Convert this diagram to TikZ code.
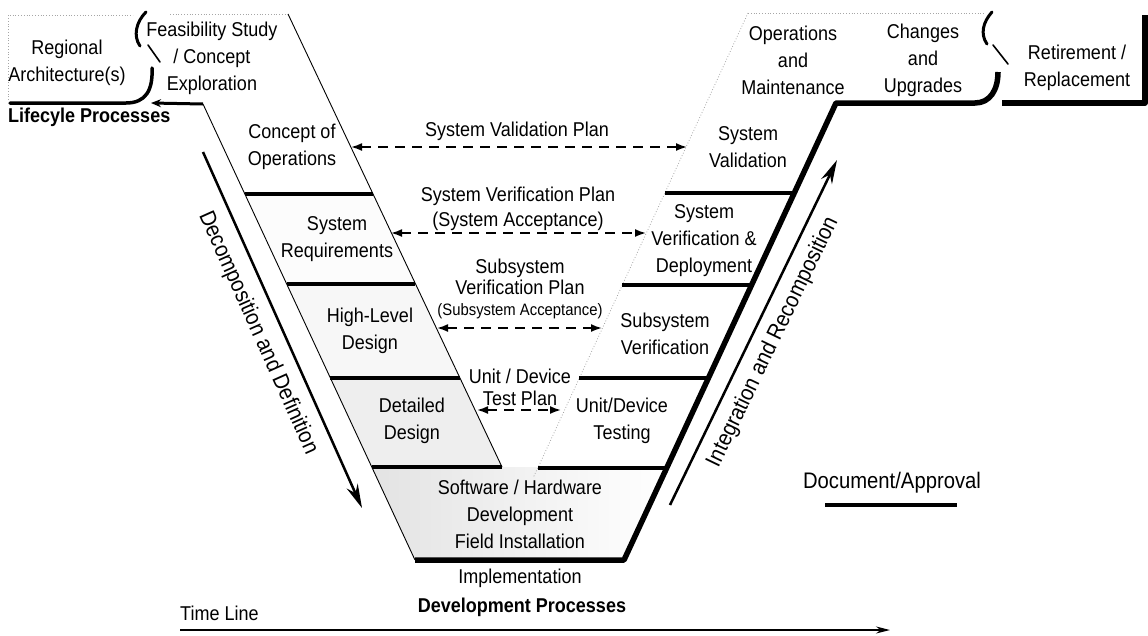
\documentclass[tikz,border=0pt]{standalone}
\usepackage{fontspec}
\setmainfont{Liberation Sans}[FakeStretch=0.9]
\usetikzlibrary{arrows.meta}
\begin{document}
\begin{tikzpicture}[x=1pt,y=-1pt,
  lbl/.style={font=\fontsize{20}{27}\selectfont, align=center, inner sep=0pt},
  clbl/.style={font=\fontsize{20}{23}\selectfont, align=center, inner sep=0pt},
  blbl/.style={font=\fontsize{20}{24}\selectfont\bfseries, inner sep=0pt},
  rlbl/.style={font=\fontsize{22.5}{26}\selectfont, inner sep=0pt},
  doc/.style={line width=4pt},
  edge/.style={line width=0.9pt},
  thickedge/.style={line width=5.5pt, line join=round},
  dotedge/.style={gray!70, dotted, line width=0.8pt},
  squig/.style={line width=3pt, line cap=round},
  plan/.style={line width=1.8pt, dash pattern=on 10pt off 7pt, {Latex[length=11pt,width=8pt]}-{Latex[length=11pt,width=8pt]}},
  bigarrow/.style={line width=2.5pt, -{Stealth[length=24pt,width=12pt]}},
]
\useasboundingbox (0,0) rectangle (1148,635);

% ---- shading of left arm
\fill[gray!2] (244.9,194) -- (372.8,194) -- (415.4,284) -- (286.7,284) -- cycle;
\fill[gray!6] (286.7,284) -- (415.4,284) -- (459.9,378) -- (330.4,378) -- cycle;
\fill[gray!13] (330.4,378) -- (459.9,378) -- (502,467) -- (371.8,467) -- cycle;
\shade[left color=gray!22, middle color=white, right color=white] (371.8,467) -- (666.7,467) -- (624,560) -- (415,560) -- cycle;

% ---- outlines
\draw[dotedge] (8,100) -- (8,15) -- (133,15);
\draw[dotedge] (170,14) -- (288,14);
\draw[dotedge] (748,13) -- (985,13);
\draw[dotedge] (748,13) -- (537.8,468) -- (533,478);
\draw[edge] (288,14) -- (502,467);
\draw[edge] (203,104) -- (415,560);

% top-left squiggle and lines
\draw[squig, line width=3.5pt] (10,103) -- (126,103) .. controls (146,103) and (153,90) .. (152,68);
\draw[squig] (146,12) .. controls (136,22) and (133,36) .. (140,46);
\draw[line width=1.6pt, line cap=round] (148,45) -- (160,62);
\draw[line width=3pt, -{Stealth[length=10pt,width=8pt]}] (203,104) -- (151,103);

% top-right squiggle and lines
\draw[thickedge] (415,560) -- (624,560) -- (836,103) -- (975,103) .. controls (990,103) and (998,90) .. (998,72);
\draw[squig] (992,12) .. controls (983,22) and (980,34) .. (987,44);
\draw[line width=1.6pt, line cap=round] (993,45) -- (1008,64);
\draw[thickedge] (1002,103) -- (1145,103) -- (1145,15);

% ---- document / approval lines
\draw[doc] (244.9,194) -- (372.8,194);
\draw[doc] (286.7,284) -- (415.4,284);
\draw[doc] (330.4,378) -- (459.9,378);
\draw[doc] (371.8,467) -- (502,467);
\draw[doc] (664.8,193) -- (794.3,193);
\draw[doc] (622.3,285) -- (751.6,285);
\draw[doc] (579.4,378) -- (708.4,378);
\draw[doc] (537.8,468) -- (666.7,468);
\draw[doc] (825,505) -- (957,505);

% ---- plan connectors
\coordinate (vpL) at (351,147);  \coordinate (vpR) at (687,147);
\coordinate (spL) at (391,233);  \coordinate (spR) at (646,233);
\coordinate (ssL) at (437,328);  \coordinate (ssR) at (602,328);
\coordinate (udL) at (477,410);  \coordinate (udR) at (561,410);
\draw[plan] (vpL) -- (vpR);
\draw[plan] (spL) -- (spR);
\draw[plan] (ssL) -- (ssR);
\draw[plan] (udL) -- (udR);

% ---- big arrows
\coordinate (dA) at (203,152); \coordinate (dB) at (362,508);
\draw[bigarrow] (dA) -- (dB);
\coordinate (iA) at (670,505); \coordinate (iB) at (837,160);
\draw[bigarrow] (iA) -- (iB);
\coordinate (tA) at (180,630); \coordinate (tB) at (890,630);
\draw[line width=1.6pt, -{Stealth[length=14pt,width=7pt]}] (tA) -- (tB);

% ---- labels
\node[lbl] (reg) at (67,63) {Regional\\Architecture(s)};
\node[lbl] (feas) at (212,58) {Feasibility Study\\/ Concept\\Exploration};
\node[blbl, anchor=west] (lcp) at (8,117) {Lifecyle Processes};
\node[lbl] (conops) at (292,147) {Concept of\\Operations};
\node[lbl] (sysreq) at (337,239) {System\\Requirements};
\node[lbl] (hld) at (370,331) {High-Level\\Design};
\node[lbl] (dd) at (412,421) {Detailed\\Design};
\node[lbl] (swhw) at (520,514) {Software / Hardware\\Development\\Field Installation};
\node[lbl] (impl) at (520,578) {Implementation};
\node[blbl] (devp) at (522,607) {Development Processes};
\node[lbl, anchor=west] (tl) at (180,613) {Time Line};
\node[lbl] (om) at (793,60) {Operations\\and\\Maintenance};
\node[lbl] (cu) at (923,60) {Changes\\and\\Upgrades};
\node[lbl] (rr) at (1077,68) {Retirement /\\Replacement};
\node[lbl] (sv) at (748,147) {System\\Validation};
\node[lbl] (svd) at (704,241) {System\\Verification \&\\Deployment};
\node[lbl] (ssv) at (665,334) {Subsystem\\Verification};
\node[lbl] (udt) at (622,421) {Unit/Device\\Testing};
\node[clbl] (vpl) at (517,131) {System Validation Plan};
\node[clbl, font=\fontsize{20}{25}\selectfont] (spl) at (518,208.5) {System Verification Plan\\(System Acceptance)};
\node[clbl, font=\fontsize{20}{21}\selectfont] (sspl) at (520,277) {Subsystem\\Verification Plan};
\node[inner sep=0pt, font=\fontsize{16.5}{18}\selectfont] (ssacc) at (520,311) {(Subsystem Acceptance)};
\node[clbl, font=\fontsize{20}{22}\selectfont] (udpl) at (520,387) {Unit / Device\\Test Plan};
\node[rlbl] (docapp) at (892,483) {Document/Approval};
\node[rlbl, rotate=-65.9] (dec) at (258,333) {Decomposition and Definition};
\node[rlbl, rotate=64.2] (int) at (773,342) {Integration and Recomposition};
\end{tikzpicture}
\end{document}
